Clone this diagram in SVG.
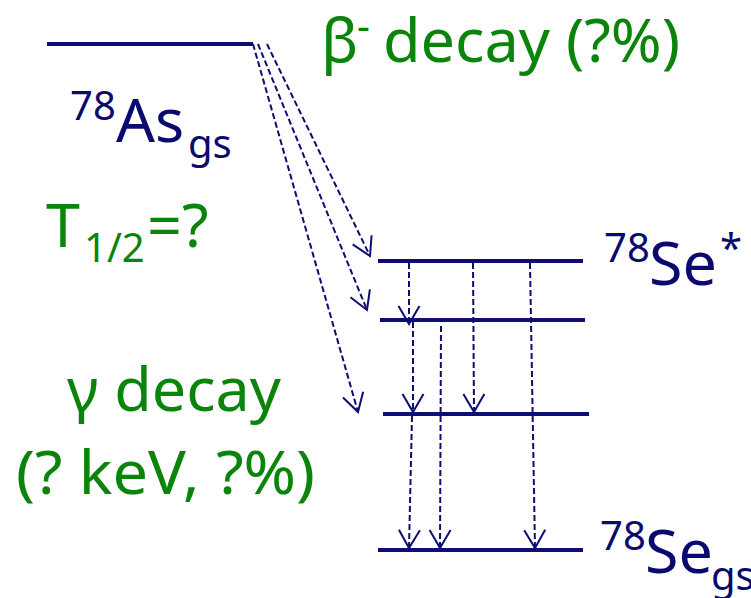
<svg xmlns="http://www.w3.org/2000/svg" width="751" height="598" viewBox="0 0 751 598">
<style>
.lvl{stroke:#0d0d73;stroke-width:4;fill:none}
.dash{stroke:#0d0d73;stroke-width:2;fill:none;stroke-dasharray:6 3;marker-end:url(#v)}
.t{font-family:"Noto Sans","Open Sans","Liberation Sans",sans-serif}
.n{fill:#0a0a6e}
.g{fill:#0a840a}
.big{font-size:61px}
.sm{font-size:40px}
</style>
<defs>
<marker id="v" markerUnits="userSpaceOnUse" markerWidth="24" markerHeight="24" viewBox="0 0 24 24" refX="20" refY="12" orient="auto">
<path d="M2,1.5 L20,12 L2,22.5" fill="none" stroke="#0d0d73" stroke-width="2"/>
</marker>
</defs>
<rect width="751" height="598" fill="#ffffff"/>
<g id="as78">
<line class="lvl" x1="47" y1="44" x2="253" y2="44"/>
<text class="t n sm" x="70" y="120">78</text>
<text class="t n big" x="116" y="142" font-size="62">As</text>
<text class="t n sm" x="188" y="158">gs</text>
</g>
<g id="halflife">
<text class="t g big" x="46" y="247">T</text>
<text class="t g sm" x="84" y="262">1/2</text>
<text class="t g big" x="147" y="247" font-size="64">=?</text>
</g>
<g id="beta-label">
<text class="t g big" x="321" y="62">β</text>
<text class="t g sm" x="357" y="40">-</text>
<text class="t g big" x="383" y="62" textLength="297" lengthAdjust="spacingAndGlyphs">decay (?%)</text>
</g>
<g id="gamma-label">
<text class="t g big" x="67" y="411">γ decay</text>
<text class="t g big" x="16" y="494" textLength="299" lengthAdjust="spacingAndGlyphs">(? keV, ?%)</text>
</g>
<g id="se78-excited">
<line class="lvl" x1="378" y1="261" x2="583" y2="261"/>
<text class="t n sm" x="604" y="262">78</text>
<text class="t n big" x="649" y="285">Se</text>
<text class="t n sm" x="720" y="262">*</text>
</g>
<g id="level2">
<line class="lvl" x1="380" y1="320" x2="585" y2="320"/>
</g>
<g id="level3">
<line class="lvl" x1="383" y1="414" x2="589" y2="414"/>
</g>
<g id="se78-gs">
<line class="lvl" x1="378" y1="550" x2="583" y2="550"/>
<text class="t n sm" x="600" y="550">78</text>
<text class="t n big" x="645" y="573">Se</text>
<text class="t n sm" x="711" y="590" font-size="39">gs</text>
</g>
<g id="connectors">
<line class="dash" x1="267" y1="44" x2="370" y2="256"/>
<line class="dash" x1="258" y1="44" x2="367" y2="310"/>
<line class="dash" x1="253" y1="44" x2="358" y2="412"/>
<line class="dash" x1="409" y1="263" x2="409" y2="324"/>
<line class="dash" x1="413" y1="322" x2="413" y2="412"/>
<line class="dash" x1="473" y1="263" x2="474" y2="412"/>
<line class="dash" x1="412" y1="416" x2="409" y2="548"/>
<line class="dash" x1="441" y1="326" x2="440" y2="548"/>
<line class="dash" x1="530" y1="263" x2="535" y2="548"/>
</g>
</svg>
